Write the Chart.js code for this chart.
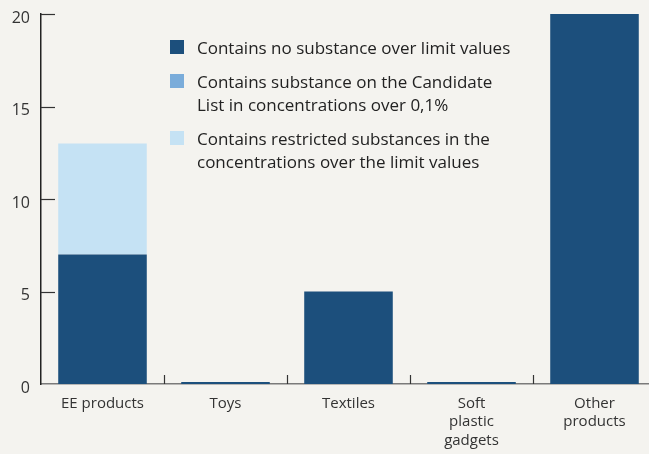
<!DOCTYPE html>
<html>
<head>
<meta charset="utf-8">
<script src="https://cdn.jsdelivr.net/npm/chart.js@4"></script>
<style>
  html, body { margin: 0; padding: 0; background: #f4f3ef; overflow: hidden; }
  #wrap { position: relative; width: 656px; height: 454px; }
  #legend { position: absolute; left: 170px; top: 36px; font-family: "Open Sans", sans-serif; font-size: 17px; color: #222; }
  .item { position: relative; padding-left: 27px; line-height: 23px; margin-bottom: 11px; white-space: nowrap; }
  .box { position: absolute; left: 0; top: 4px; width: 14px; height: 14px; }
</style>
</head>
<body>
<div id="wrap">
  <canvas id="c" width="656" height="454"></canvas>
  <div id="legend"></div>
</div>
<script>
const categories = ["EE products", "Toys", "Textiles", ["Soft", "plastic", "gadgets"], ["Other", "products"]];
const noSubstance = [7, 0, 5, 0, 20];
const candidateList = [0, 0, 0, 0, 0];
const restricted = [6, 0, 0, 0, 0];
const yTicks = [0, 5, 10, 15, 20];

const seriesNames = [
  ["Contains no substance over limit values"],
  ["Contains substance on the Candidate", "List in concentrations over 0,1%"],
  ["Contains restricted substances in the", "concentrations over the limit values"]
];
const colors = ["#1c4f7c", "#7aacda", "#c5e2f4"];

// legend as html so the wrapped lines stay real text
const legend = document.getElementById("legend");
seriesNames.forEach((lines, i) => {
  const div = document.createElement("div");
  div.className = "item";
  div.innerHTML = `<span class="box" style="background:${colors[i]}"></span>` + lines.join("<br>");
  legend.appendChild(div);
});

// short inward ticks on both axes
const tickMarks = {
  id: "tickMarks",
  afterDraw(chart) {
    const ctx = chart.ctx;
    const x = chart.scales.x, y = chart.scales.y;
    const area = chart.chartArea;
    ctx.save();
    ctx.strokeStyle = "#333";
    ctx.lineWidth = 1.2;
    yTicks.forEach(v => {
      if (v === 0) return;
      const py = Math.round(y.getPixelForValue(v)) + 0.5;
      ctx.beginPath();
      ctx.moveTo(area.left, py);
      ctx.lineTo(area.left + 14, py);
      ctx.stroke();
    });
    for (let i = 1; i < categories.length; i++) {
      const px = Math.round((x.getPixelForValue(i - 1) + x.getPixelForValue(i)) / 2) + 0.5;
      ctx.beginPath();
      ctx.moveTo(px, area.bottom);
      ctx.lineTo(px, area.bottom - 9);
      ctx.stroke();
    }
    ctx.restore();
  }
};

new Chart(document.getElementById("c"), {
  type: "bar",
  data: {
    labels: categories,
    datasets: [
      { label: seriesNames[0].join(" "), data: noSubstance, backgroundColor: colors[0], minBarLength: 2 },
      { label: seriesNames[1].join(" "), data: candidateList, backgroundColor: colors[1] },
      { label: seriesNames[2].join(" "), data: restricted, backgroundColor: colors[2] }
    ]
  },
  options: {
    responsive: false,
    animation: false,
    layout: { padding: { top: 14, left: 0, right: 0, bottom: 0 } },
    datasets: { bar: { categoryPercentage: 1, barPercentage: 0.72, borderWidth: 0 } },
    plugins: { legend: { display: false }, tooltip: { enabled: false } },
    scales: {
      x: {
        stacked: true,
        grid: { display: false, drawTicks: false },
        border: { display: true, color: "#7a7a7a", width: 1.5 },
        ticks: {
          color: "#333",
          padding: 10,
          maxRotation: 0,
          autoSkip: false,
          font: { family: "Open Sans", size: 15, lineHeight: 1.25 }
        },
        afterFit: s => { s.height = 70; s.paddingLeft = 0; s.paddingRight = 0; }
      },
      y: {
        stacked: true,
        min: 0,
        max: 20,
        afterBuildTicks: s => { s.ticks = yTicks.map(v => ({ value: v })); },
        grid: { display: false, drawTicks: false },
        border: { display: true, color: "#222", width: 1.5 },
        ticks: {
          color: "#333",
          padding: 11,
          labelOffset: 4,
          font: { family: "Open Sans", size: 16 }
        },
        afterFit: s => { s.width = 41; s.paddingTop = 0; s.paddingBottom = 0; }
      }
    }
  },
  plugins: [tickMarks]
});
</script>
</body>
</html>
